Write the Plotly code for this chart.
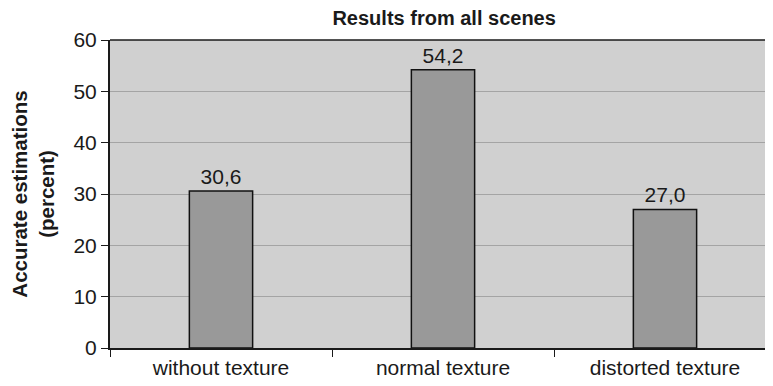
import plotly.graph_objects as go

categories = ["without texture", "normal texture", "distorted texture"]
values = [30.6, 54.2, 27.0]
labels = [f"{v:.1f}".replace(".", ",") for v in values]
y_ticks = [0, 10, 20, 30, 40, 50, 60]

fig = go.Figure(go.Bar(
    x=categories, y=values, text=labels, textposition="outside",
    textfont=dict(size=21, color="#1a1a1a"),
    marker=dict(color="#999999", line=dict(color="#111111", width=1.5)),
    width=0.285, cliponaxis=False,
))

fig.update_layout(
    width=773, height=386,
    margin=dict(l=102, r=8, t=32, b=46, autoexpand=False),
    paper_bgcolor="white", plot_bgcolor="#d0d0d0",
    font=dict(family="Liberation Sans, Arial, sans-serif", size=21, color="#1a1a1a"),
    title=dict(text="<b>Results from all scenes</b>", x=0.504, xref="paper", xanchor="center",
               y=0.974, yanchor="middle", font=dict(size=20)),
    showlegend=False,
    shapes=[dict(type="line", xref="paper", yref="paper", x0=0, x1=1, y0=1, y1=1,
                 line=dict(color="#1a1a1a", width=1.5))],
)
fig.update_xaxes(
    range=[-0.5, 2.4865], showgrid=False, showline=True, linecolor="#1a1a1a", linewidth=1.5,
    ticks="outside", tickson="boundaries", ticklen=7, tickcolor="#1a1a1a", tickwidth=1,
    tickfont=dict(size=21), automargin=False,
)
fig.update_yaxes(
    range=[0, 60], tickvals=y_ticks, showgrid=True, gridcolor="#a4a4a4", gridwidth=1,
    showline=True, linecolor="#1a1a1a", linewidth=2, ticks="outside", ticklen=7,
    tickcolor="#1a1a1a", tickfont=dict(size=21), zeroline=False, automargin=False,
    title=dict(text="<b>Accurate estimations<br>(percent)</b>", font=dict(size=20.5), standoff=19),
)

fig.write_html("out.html")
